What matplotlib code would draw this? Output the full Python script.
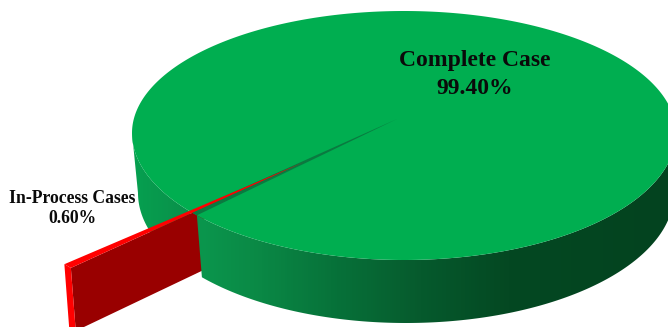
import numpy as np
import matplotlib
matplotlib.use("Agg")
import matplotlib.pyplot as plt
from matplotlib.colors import LinearSegmentedColormap
from matplotlib.patches import Polygon

categories = ["Complete Case", "In-Process Cases"]
shares = [99.40, 0.60]

# pie geometry in image pixels, the top face is squashed more behind the centre
cx, cy, rx, ry_up, ry_down = 404, 133, 272, 122, 127
cx_low, cy_low, rx_low, ry_low = 406, 193, 268, 130
k = rx_low / rx
t0 = 139.6
apex = np.array([397, 119])
explode = np.array([-126, 52.6])
tip_off = np.array([-93, 43])


def rim(t):
    t = np.radians(t)
    s = np.sin(t)
    return np.column_stack([cx + rx * np.cos(t), cy + np.where(s > 0, ry_down, ry_up) * s])


def rim_low(t):
    t = np.radians(t)
    return np.column_stack([cx_low + rx_low * np.cos(t), cy_low + ry_low * np.sin(t)])


def drop(p, d):
    return np.array([cx + (p[0] - cx) * k, p[1] + d])


fig = plt.figure(figsize=(6.68, 3.27), dpi=100)
ax = fig.add_axes([0, 0, 1, 1])

dt = shares[1] / 100 * 360

wall_cmap = LinearSegmentedColormap.from_list(
    "wall",
    [(0.0, "#06a050"), (0.11, "#0a8f49"), (0.127, "#0a964d"), (0.24, "#0a8845"),
     (0.37, "#07733a"), (0.54, "#065a2d"), (0.705, "#044822"), (1.0, "#03431f")],
)
gradient = np.linspace(0, 1, 536).reshape(1, -1)


def wall(t_a, t_b, z):
    ts = np.linspace(t_a, t_b, 200)
    pts = np.vstack([rim(ts), rim_low(ts[::-1])])
    im = ax.imshow(gradient, cmap=wall_cmap, extent=(132, 668, 327, 0), aspect="auto", zorder=z)
    im.set_clip_path(Polygon(pts, transform=ax.transData))


# back left wall, then the pulled out slice, then the front wall
wall(t0 + dt, 180, 1)

outer = rim(t0 + dt)[0] + explode
inner = rim(t0)[0] + explode
tip = apex + tip_off
seam = rim(t0)[0]
# the slice side face hangs from the lower edge of the red strip, a bit runs under the front wall
frac = (seam[0] - inner[0]) / (tip[0] - inner[0]) + 0.03
edge = inner + (tip - inner) * frac

ax.add_patch(Polygon([inner, edge, drop(edge, 61), drop(inner, 63)], fc="#990000", ec="none", zorder=2))
ax.add_patch(Polygon([outer, inner, drop(inner, 63), drop(outer, 66)], fc="#ff0000", ec="none", zorder=2))

wall(0, t0, 3)

ts = np.linspace(0, 360, 400)
ax.add_patch(Polygon(rim(ts), fc="#00ae50", ec="none", zorder=4))
ax.add_patch(Polygon([apex, rim(t0)[0], rim(t0 + dt)[0]], fc="#0a7a40", ec="none", zorder=5))
ax.add_patch(Polygon([tip, inner, outer], fc="#ff0000", ec="none", zorder=6))

font = ["Liberation Serif", "DejaVu Serif"]
ax.text(475, 74.5, "%s\n%.2f%%" % (categories[0], shares[0]), ha="center", va="center",
        family=font, weight="bold", fontsize=17, color="#0a0a0a", linespacing=1.42, zorder=7)
ax.text(72, 208.5, "%s\n%.2f%%" % (categories[1], shares[1]), ha="center", va="center",
        family=font, weight="bold", fontsize=12.7, color="#0a0a0a", linespacing=1.27, zorder=7)

ax.set_xlim(0, 668)
ax.set_ylim(327, 0)
ax.axis("off")

fig.savefig("out.png", dpi=100)
